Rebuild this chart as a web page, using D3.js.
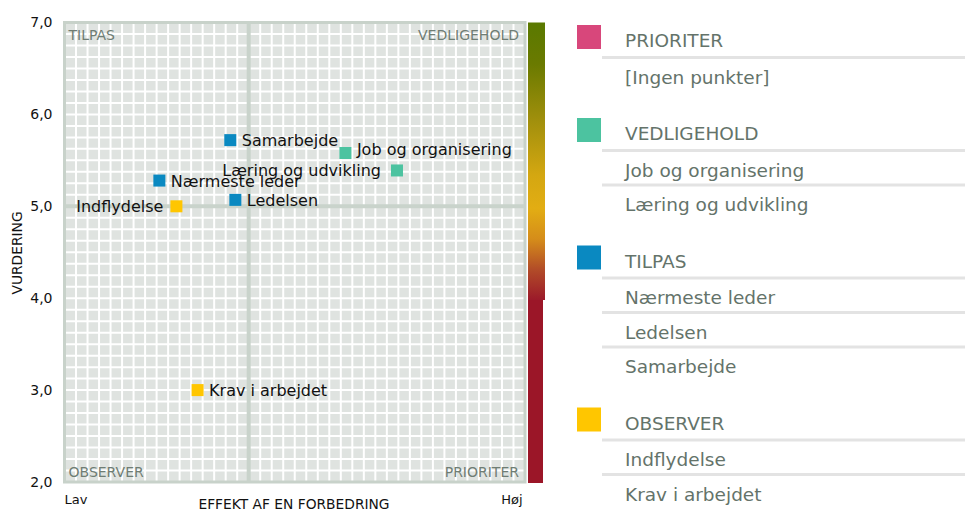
<!DOCTYPE html>
<html><head><meta charset="utf-8">
<script src="https://cdn.jsdelivr.net/npm/d3@7"></script>
<style>body{margin:0;background:#fff} svg{display:block;font-family:"DejaVu Sans",sans-serif}</style>
</head><body><svg id="c" width="965" height="512"></svg>
<script>
// ---- data ----
const names = ["Job og organisering","Læring og udvikling","Nærmeste leder","Ledelsen","Samarbejde","Indflydelse","Krav i arbejdet"];
const effect = [61.0, 72.2, 20.6, 37.1, 36.0, 24.3, 28.9];
const rating = [5.58, 5.39, 5.28, 5.07, 5.72, 5.0, 3.0];
const category = ["VEDLIGEHOLD","VEDLIGEHOLD","TILPAS","TILPAS","TILPAS","OBSERVER","OBSERVER"];
const groups = ["PRIORITER","VEDLIGEHOLD","TILPAS","OBSERVER"];
const groupColors = ["#d8477b","#4cc3a0","#0a89c1","#ffc600"];
const yTicks = [2,3,4,5,6,7];
const xEndLabels = ["Lav","Høj"];
const thresholdEffect = 40, thresholdRating = 5;
const emptyText = "[Ingen punkter]";

// label placement rules (layout, not data)
const labelLeft = {"Læring og udvikling": true, "Indflydelse": true};
const labelNudge = {"Job og organisering": -4};

const svg = d3.select("#c");
const x = d3.scaleLinear([0,100],[64.5,525]);
const y = d3.scaleLinear([2,7],[482,22.5]);
const color = d3.scaleOrdinal(groups, groupColors);

// background + grid
const g = svg.append("g");
g.append("rect").attr("x",x(0)).attr("y",y(7)).attr("width",x(100)-x(0)).attr("height",y(2)-y(7)).attr("fill","#dfe3e0");
g.selectAll("line.gx").data(d3.range(0,100.001,2.5)).join("line")
  .attr("x1",d=>x(d)).attr("x2",d=>x(d)).attr("y1",y(7)).attr("y2",y(2))
  .attr("stroke","#fff").attr("stroke-width",2);
g.selectAll("line.gy").data(d3.range(2,7.001,0.125)).join("line")
  .attr("y1",d=>y(d)).attr("y2",d=>y(d)).attr("x1",x(0)).attr("x2",x(100))
  .attr("stroke","#fff").attr("stroke-width",2);
// midlines
g.append("line").attr("x1",x(thresholdEffect)).attr("x2",x(thresholdEffect)).attr("y1",y(7)).attr("y2",y(2)).attr("stroke","#c9d3cb").attr("stroke-width",4);
g.append("line").attr("x1",x(0)).attr("x2",x(100)).attr("y1",y(thresholdRating)).attr("y2",y(thresholdRating)).attr("stroke","#c9d3cb").attr("stroke-width",4);
// frame
g.append("rect").attr("x",x(0)).attr("y",y(7)).attr("width",x(100)-x(0)).attr("height",y(2)-y(7))
  .attr("fill","none").attr("stroke","#c8d2ca").attr("stroke-width",3);

// colour bar
const defs = svg.append("defs");
const grad = defs.append("linearGradient").attr("id","bar").attr("x1",0).attr("x2",0).attr("y1",0).attr("y2",1);
[[0,"#5a7900"],[0.15,"#6a7a00"],[0.35,"#a08f0c"],[0.55,"#d4a711"],[0.67,"#e2ad13"],[0.78,"#d58d1a"],[0.89,"#b24c28"],[1,"#9b1a2a"]]
  .forEach(s=>grad.append("stop").attr("offset",s[0]).attr("stop-color",s[1]));
svg.append("rect").attr("x",528).attr("y",y(7)).attr("width",17).attr("height",300-y(7)).attr("fill","url(#bar)");
svg.append("rect").attr("x",528).attr("y",300).attr("width",15).attr("height",y(2)-300+1).attr("fill","#9b1628");

// y axis
const ya = svg.append("g").attr("transform",`translate(${x(0)},0)`)
  .call(d3.axisLeft(y).tickValues(yTicks).tickSize(0).tickPadding(12)
  .tickFormat(d=>d3.format(".1f")(d).replace(".",",")));
ya.select(".domain").remove();
ya.selectAll("text").attr("font-size",14).attr("fill","#111").attr("font-family","DejaVu Sans");

// x axis end labels
const xa = svg.append("g").attr("transform",`translate(0,${y(2)})`)
  .call(d3.axisBottom(x).tickValues([0,100]).tickSize(0).tickPadding(13).tickFormat((d,i)=>xEndLabels[i]));
xa.select(".domain").remove();
xa.selectAll("text").attr("font-size",13).attr("fill","#111").attr("font-family","DejaVu Sans")
  .attr("text-anchor",(d,i)=>i===0?"start":"end").attr("dx",(d,i)=>i===0?-0.5:-3);

// axis titles
svg.append("text").attr("x",294).attr("y",509).attr("text-anchor","middle").attr("font-size",13.8).attr("fill","#111").text("EFFEKT AF EN FORBEDRING");
svg.append("text").attr("transform","translate(22,253) rotate(-90)").attr("text-anchor","middle").attr("font-size",13.8).attr("fill","#111").text("VURDERING");

// quadrant labels
const qc = "#6f7d74";
svg.append("text").attr("x",x(0)+4).attr("y",40).attr("font-size",14).attr("fill",qc).text("TILPAS");
svg.append("text").attr("x",x(100)-6).attr("y",40).attr("text-anchor","end").attr("font-size",14).attr("fill",qc).text("VEDLIGEHOLD");
svg.append("text").attr("x",x(0)+4).attr("y",477).attr("font-size",14).attr("fill",qc).text("OBSERVER");
svg.append("text").attr("x",x(100)-6).attr("y",477).attr("text-anchor","end").attr("font-size",14).attr("fill",qc).text("PRIORITER");

// points
const pts = names.map((n,i)=>({name:n, e:effect[i], r:rating[i], c:category[i]}));
const pg = svg.append("g");
pg.selectAll("rect").data(pts).join("rect")
  .attr("x",d=>x(d.e)-6).attr("y",d=>y(d.r)-6).attr("width",12).attr("height",12)
  .attr("fill",d=>color(d.c));
pg.selectAll("text").data(pts).join("text")
  .attr("x",d=>labelLeft[d.name] ? x(d.e)-(d.name==="Indflydelse"?13:16) : x(d.e)+11.5)
  .attr("y",d=>y(d.r)+6+(labelNudge[d.name]||0))
  .attr("text-anchor",d=>labelLeft[d.name]?"end":"start")
  .attr("font-size",16).attr("fill","#111").text(d=>d.name);

// legend
const lg = svg.append("g");
let b = 47;
const lc = "#64736a";
groups.forEach((grp,gi)=>{
  const items = pts.filter(p=>p.c===grp).map(p=>p.name);
  const list = items.length ? items : [emptyText];
  lg.append("rect").attr("x",577).attr("y",b-22).attr("width",24).attr("height",24).attr("fill",color(grp));
  lg.append("text").attr("x",625).attr("y",b).attr("font-size",18.5).attr("fill",lc).text(grp);
  lg.append("line").attr("x1",602).attr("x2",965).attr("y1",b+10.5).attr("y2",b+10.5).attr("stroke","#e3e3e3").attr("stroke-width",3);
  let ib = b + 36.5;
  list.forEach((it,ii)=>{
    lg.append("text").attr("x",625).attr("y",ib).attr("font-size",18.5).attr("fill",lc).text(it);
    if (ii < list.length-1)
      lg.append("line").attr("x1",602).attr("x2",965).attr("y1",ib+8.5).attr("y2",ib+8.5).attr("stroke","#e3e3e3").attr("stroke-width",3);
    if (ii < list.length-1) ib += 34.5;
  });
  b = ib + 56.5;
});
</script></body></html>
